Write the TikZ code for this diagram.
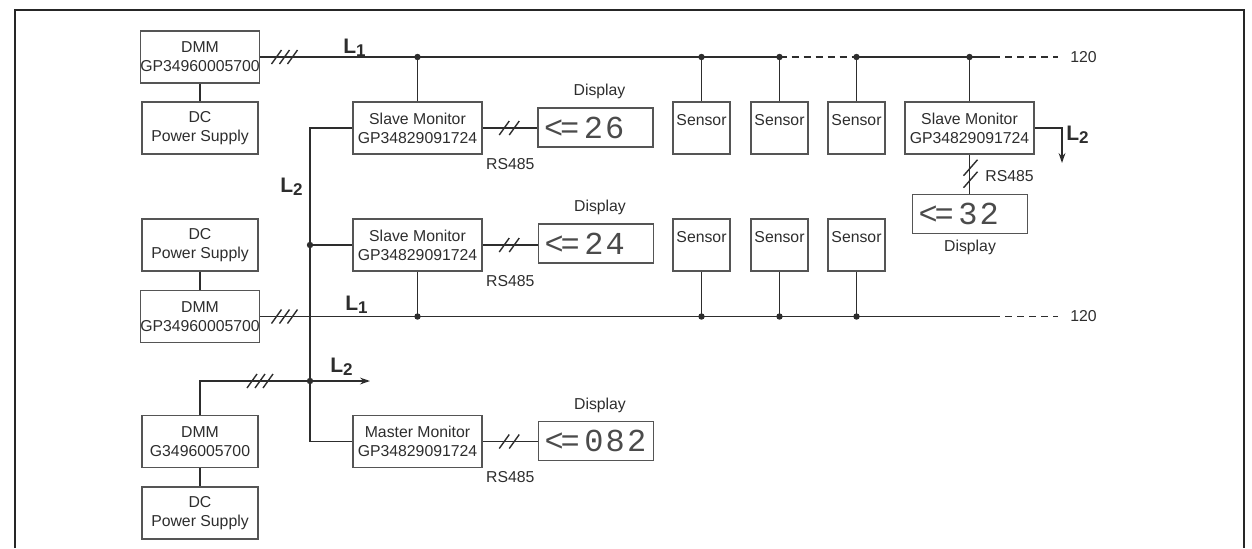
\documentclass[tikz,border=0pt]{standalone}
\usepackage{fontspec}
\setmainfont{Liberation Sans}
\newfontfamily\lcdfont{Liberation Mono}
\usepackage{xcolor}
\definecolor{wire}{RGB}{45,45,45}
\definecolor{boxline}{RGB}{85,85,85}
\definecolor{lcdgray}{RGB}{75,75,75}
\usetikzlibrary{arrows.meta,positioning,calc}
\newcommand{\lcdgap}{\kern1.1pt}
\newcommand{\lcdval}[1]{<\kern-1.5pt=\kern2.2pt#1}
\newcommand{\lsub}[1]{\raisebox{-1.5pt}{\fontsize{8.5}{8.5}\selectfont #1}}

\begin{document}
\begin{tikzpicture}[
    x=0.5pt, y=-0.5pt,
    font=\fontsize{7.9}{9.5}\selectfont,
    unit/.style={rectangle, draw=boxline, line width=0.75pt, minimum width=58pt,
                 minimum height=26pt, inner sep=0pt, align=center, text=wire},
    mon/.style={unit, minimum width=64.5pt},
    sensor/.style={rectangle, draw=boxline, line width=0.75pt, minimum width=28.5pt,
                 inner xsep=0pt, inner ysep=3pt, text height=8.5pt, text depth=11.5pt,
                 text=wire},
    lcd/.style={rectangle, draw=boxline, line width=0.75pt, minimum height=19.5pt,
                 inner xsep=3pt, inner ysep=0pt, text width=51.5pt, align=left,
                 font=\lcdfont\fontsize{16}{16}\selectfont, text=lcdgray},
    tag/.style={inner sep=0pt, text=wire},
    lbl/.style={inner sep=0pt, anchor=base west, text=wire,
                 font=\fontsize{10.5}{10.5}\selectfont\bfseries},
    bus/.style={draw=wire, line width=0.8pt},
    busdash/.style={bus, dash pattern=on 3.5pt off 2.5pt},
    arr/.style={bus, -{Stealth[length=5pt,width=3.4pt]}},
    frame/.style={draw=black!85, line width=1.4pt},
    hatch/.pic={\draw[wire, line width=0.7pt] (-5,7) -- (5,-7);},
    vhatch/.pic={\draw[wire, line width=0.7pt] (-7,8) -- (7,-8);},
  ]
    \useasboundingbox (0,0) rectangle (1252,548);
    \draw[frame] (15,548) -- (15,10) -- (1244,10) -- (1244,548);

    \node[unit] (dmmA) at (200,57)      {DMM\\GP34960005700};
    \node[unit] (dcA)  at (200,128)     {DC\\Power Supply};
    \node[mon]  (smA)  at (417.5,128)   {Slave Monitor\\GP34829091724};
    \node[lcd]  (lcdA) at (595.5,127.5) {\lcdval{2\lcdgap6}};
    \node[tag, above=4pt of lcdA, xshift=2pt] (dispA) {Display};
    \node[tag, below right=1.5pt and 1.5pt of smA.south east] (rsA) {RS485};
    \node[sensor] (snA1) at (701.5,128) {Sensor};
    \node[sensor] (snA2) at (779.5,128) {Sensor};
    \node[sensor] (snA3) at (856.5,128) {Sensor};
    \node[mon]  (smR)  at (969.5,128)   {Slave Monitor\\GP34829091724};
    \node[lcd]  (lcdR) at (970,214)     {\lcdval{3\lcdgap2}};
    \node[tag, below=2.5pt of lcdR] (dispR) {Display};
    \node[tag, anchor=west] (rsR) at (985,176) {RS485};

    \node[unit] (dcB)  at (200,245)     {DC\\Power Supply};
    \node[unit] (dmmB) at (200,316.5)   {DMM\\GP34960005700};
    \node[mon]  (smB)  at (417.5,245)   {Slave Monitor\\GP34829091724};
    \node[lcd]  (lcdB) at (596,243.5)   {\lcdval{2\lcdgap4}};
    \node[tag, above=4pt of lcdB, xshift=2pt] (dispB) {Display};
    \node[tag, below right=1.5pt and 1.5pt of smB.south east] (rsB) {RS485};
    \node[sensor] (snB1) at (701.5,245) {Sensor};
    \node[sensor] (snB2) at (779.5,245) {Sensor};
    \node[sensor] (snB3) at (856.5,245) {Sensor};

    \node[unit] (dmmC) at (200,441.5)   {DMM\\G3496005700};
    \node[unit] (dcC)  at (200,513)     {DC\\Power Supply};
    \node[mon]  (smC)  at (417.5,441.5) {Master Monitor\\GP34829091724};
    \node[lcd]  (lcdC) at (596,441)     {\lcdval{0\lcdgap8\lcdgap2}};
    \node[tag, above=4pt of lcdC, xshift=2pt] (dispC) {Display};
    \node[tag, below right=1.5pt and 1.5pt of smC.south east] (rsC) {RS485};

    \coordinate (l2x)   at (310,0);
    \coordinate (endA)  at (993,57);
    \coordinate (tailA) at (1058,57);
    \coordinate (endB)  at (993,316.5);
    \coordinate (tailB) at (1058,316.5);
    \coordinate (l2j)   at (310,381);
    \coordinate (l2out) at (370,381);
    \coordinate (l2r)   at (1062,163);
    \node[tag, right=6pt of tailA] (nA) {120};
    \node[tag, right=6pt of tailB] (nB) {120};

    \node[lbl] (l1A) at (343,53)  {L\lsub{1}};
    \node[lbl] (l1B) at (345,310) {L\lsub{1}};
    \node[lbl] (l2A) at (280,192) {L\lsub{2}};
    \node[lbl] (l2B) at (330,372) {L\lsub{2}};
    \node[lbl] (l2R) at (1066,140) {L\lsub{2}};

    \draw[bus] (dmmA) -- (dcA);
    \draw[bus] (dcB) -- (dmmB);
    \draw[bus] (dmmC) -- (dcC);

    \draw[bus] (dmmA.east) -- (snA2.north |- dmmA.east);
    \draw[busdash] (snA2.north |- dmmA.east) -- (snA3.north |- dmmA.east);
    \draw[bus] (snA3.north |- dmmA.east) -- (endA);
    \draw[busdash] (endA) -- (tailA);
    \foreach \n in {smA,snA1,snA2,snA3,smR} {
      \draw[bus] (\n.north) -- (\n.north |- dmmA.east);
      \fill[wire] (\n.north |- dmmA.east) circle[radius=1.6pt];
    }

    \draw[bus] (dmmB.east) -- (endB);
    \draw[busdash] (endB) -- (tailB);
    \foreach \n in {smB,snB1,snB2,snB3} {
      \draw[bus] (\n.south) -- (\n.south |- dmmB.east);
      \fill[wire] (\n.south |- dmmB.east) circle[radius=1.6pt];
    }

    \foreach \n/\d in {smA/lcdA,smB/lcdB,smC/lcdC} {
      \draw[bus] (\n.east) -- (\n.east -| \d.west);
      \pic at ($(\n.east)+(21.5,0)$) {hatch};
      \pic at ($(\n.east)+(31.5,0)$) {hatch};
    }
    \draw[bus] (smR.south) -- (smR.south |- lcdR.north);
    \pic at ($(smR.south)+(1,13)$) {vhatch};
    \pic at ($(smR.south)+(1,25)$) {vhatch};

    \draw[bus] (smA.west) -| (l2x |- smC.west) -- (smC.west);
    \draw[bus] (smB.west) -- (l2x |- smB.west);
    \fill[wire] (l2x |- smB.west) circle[radius=1.6pt];
    \draw[bus] (dmmC.north) |- (l2j);
    \fill[wire] (l2j) circle[radius=1.6pt];
    \draw[arr] (l2j) -- (l2out);
    \draw[arr] (smR.east) -| (l2r);

    \foreach \d in {16,24,32} {
      \pic at ($(dmmA.east)+(\d,0)$) {hatch};
      \pic at ($(dmmB.east)+(\d,0)$) {hatch};
    }
    \foreach \d in {252,260,268} \pic at (\d,381) {hatch};
  \end{tikzpicture}
\end{document}
